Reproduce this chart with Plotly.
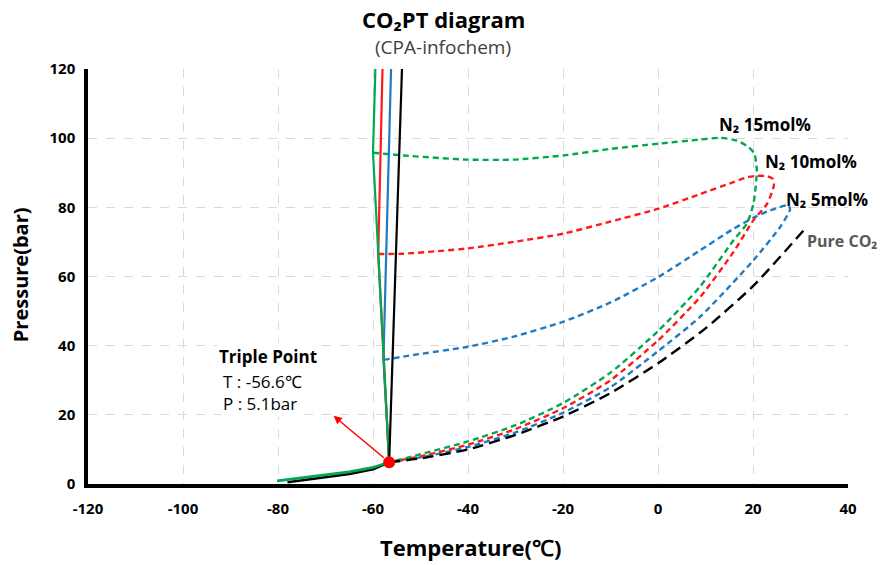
import plotly.graph_objects as go

# ---- data ----
triple_T, triple_P = -56.6, 6.3

# sublimation (solid) curves
sub_black_T = [-78.0, -74.0, -70.0, -65.0, -60.0, -56.6]
sub_black_P = [0.5, 1.2, 1.9, 2.9, 4.3, 6.3]
sub_green_T = [-80.2, -75.0, -70.0, -65.0, -60.0, -56.6]
sub_green_P = [0.9, 1.8, 2.6, 3.5, 4.8, 6.3]

# melting (solid) lines
melt_black_T = [-56.6, -53.9]
melt_black_P = [6.3, 120]
melt_blue_T = [-56.6, -57.8, -56.2]
melt_blue_P = [6.3, 36.0, 120]
melt_red_T = [-56.6, -58.9, -58.0]
melt_red_P = [6.3, 66.5, 120]
melt_green_T = [-56.6, -60.0, -59.5]
melt_green_P = [6.3, 95.8, 120]

# phase envelopes (dashed)
pure_T = [-56.6, -50, -40, -30, -20, -10, 0, 10, 20, 30.7]
pure_P = [6.3, 7.4, 10.0, 14.2, 19.5, 26.3, 34.9, 45.0, 57.2, 73.4]

n5_T = [-57.8, -51.5, -40, -30.4, -20, -10, 0, 8.8, 15.9, 20.1, 23.0, 25.5, 27.4,
        27.8, 25.7, 20.1, 8.9, 0, -10, -20, -30, -40, -50, -56.6]
n5_P = [35.9, 37.3, 39.7, 42.6, 46.9, 52.5, 59.8, 67.5, 73.8, 77.0, 78.8, 80.0, 80.6,
        79.4, 74.3, 64.7, 48.4, 38.4, 28.0, 20.6, 14.9, 10.7, 7.7, 6.3]

n10_T = [-58.9, -53.6, -40.2, -30.4, -19.9, -10, 0.1, 8.8, 15.9, 18.7, 21.0, 23.0, 24.2,
         24.4, 23.0, 20.1, 15.9, 8.9, 0, -10, -20, -30, -40, -50, -56.6]
n10_P = [66.5, 66.6, 68.1, 70.0, 72.4, 75.9, 79.6, 83.8, 87.3, 88.7, 89.1, 89.0, 88.2,
         86.4, 81.1, 76.3, 67.1, 54.1, 41.5, 30.0, 21.9, 15.9, 11.4, 8.0, 6.3]

n15_T = [-60.0, -53.6, -40.2, -30.4, -19.9, -10, 0.1, 8.8, 13.1, 16.6, 19.1, 20.3,
         20.8, 20.1, 18.7, 15.9, 8.8, 0, -10, -20, -30, -40, -50, -56.6]
n15_P = [95.8, 95.0, 93.8, 93.8, 95.0, 96.9, 98.4, 99.6, 100.1, 99.3, 97.4, 95.5,
         90.7, 81.1, 75.3, 70.5, 57.0, 44.2, 32.2, 23.4, 17.0, 12.3, 8.6, 6.3]

x_ticks = [-120, -100, -80, -60, -40, -20, 0, 20, 40]
y_ticks = [0, 20, 40, 60, 80, 100, 120]

GREEN = "#00A850"
RED = "#FF1A1A"
BLUE = "#1F7BC4"
BLACK = "#000000"
FONT = "Open Sans"

fig = go.Figure()

def dashed(T, P, color, dash="6px,4px", width=2.4):
    fig.add_trace(go.Scatter(x=T, y=P, mode="lines", line=dict(color=color, width=width, dash=dash),
                             line_shape="spline", line_smoothing=0.6,
                             hoverinfo="skip", showlegend=False))

def solid(T, P, color, width=2.2):
    fig.add_trace(go.Scatter(x=T, y=P, mode="lines", line=dict(color=color, width=width),
                             hoverinfo="skip", showlegend=False))

dashed(n5_T, n5_P, BLUE)
dashed(n10_T, n10_P, RED)
dashed(n15_T, n15_P, GREEN)
dashed(pure_T, pure_P, BLACK, dash="11px,6px", width=2.4)

solid(melt_blue_T, melt_blue_P, BLUE)
solid(melt_red_T, melt_red_P, RED)
solid(sub_black_T, sub_black_P, BLACK, width=2.6)
solid(sub_green_T, sub_green_P, GREEN, width=2.6)
solid(melt_green_T, melt_green_P, GREEN)
solid(melt_black_T, melt_black_P, BLACK)

fig.add_trace(go.Scatter(x=[triple_T], y=[triple_P], mode="markers",
                         marker=dict(color="#FF0000", size=12), hoverinfo="skip", showlegend=False))

annotations = [
    dict(text="<b>CO₂PT diagram</b>", x=0.4675, y=1.121, xref="paper", yref="paper",
         xanchor="center", yanchor="middle", showarrow=False,
         font=dict(size=22, color="#000000", family=FONT)),
    dict(text="(CPA-infochem)", x=0.4675, y=1.054, xref="paper", yref="paper",
         xanchor="center", yanchor="middle", showarrow=False,
         font=dict(size=19, color="#404040", family=FONT)),
    dict(text="<b>Temperature(℃)</b>", x=0.503, y=-0.153, xref="paper", yref="paper",
         xanchor="center", yanchor="middle", showarrow=False,
         font=dict(size=22, color="#000000", family=FONT)),
    dict(text="<b>Pressure(bar)</b>", x=-0.089, y=0.504, xref="paper", yref="paper",
         xanchor="center", yanchor="middle", showarrow=False, textangle=-90,
         font=dict(size=20, color="#000000", family=FONT)),
    dict(text="<b>N₂ 15mol%</b>", x=12.5, y=104.0, xanchor="left", yanchor="middle",
         showarrow=False, font=dict(size=17, color="#000000", family=FONT)),
    dict(text="<b>N₂ 10mol%</b>", x=22.0, y=93.3, xanchor="left", yanchor="middle",
         showarrow=False, font=dict(size=17, color="#000000", family=FONT)),
    dict(text="<b>N₂ 5mol%</b>", x=26.6, y=82.3, xanchor="left", yanchor="middle",
         showarrow=False, font=dict(size=17, color="#000000", family=FONT)),
    dict(text="<b>Pure CO₂</b>", x=31.0, y=70.2, xanchor="left", yanchor="middle",
         showarrow=False, font=dict(size=16, color="#595959", family=FONT)),
    dict(text="<b>Triple Point</b>", x=-92.8, y=36.8, xanchor="left", yanchor="middle",
         showarrow=False, bgcolor="#FFFFFF", font=dict(size=17, color="#000000", family=FONT)),
    dict(text="T : -56.6℃<br>P : 5.1bar", x=-92.0, y=26.5, xanchor="left", yanchor="middle",
         align="left", showarrow=False, bgcolor="#FFFFFF",
         font=dict(size=17, color="#000000", family=FONT)),
    dict(text="", x=-68.3, y=19.7, ax=triple_T, ay=triple_P, axref="x", ayref="y",
         showarrow=True, arrowhead=2, arrowsize=1.1, arrowwidth=1.5, arrowcolor="#FF0000",
         standoff=0, startstandoff=5),
]

fig.update_layout(
    width=885, height=565,
    margin=dict(l=87.7, r=37.3, t=68.5, b=80.7),
    plot_bgcolor="#FFFFFF", paper_bgcolor="#FFFFFF",
    font=dict(family=FONT),
    annotations=annotations,
    xaxis=dict(range=[-120, 40], tickvals=x_ticks, ticktext=[str(v) for v in x_ticks],
               showgrid=True, gridcolor="#D9D9D9", griddash="dash", gridwidth=1,
               showline=True, linecolor="#000000", linewidth=3.5, zeroline=False,
               ticklabelstandoff=8,
               tickfont=dict(size=15, color="#000000", family=FONT, weight="bold"), ticks=""),
    yaxis=dict(range=[0, 120], tickvals=y_ticks, ticktext=[str(v) for v in y_ticks],
               showgrid=True, gridcolor="#D9D9D9", griddash="dash", gridwidth=1,
               showline=True, linecolor="#000000", linewidth=3.5, zeroline=False,
               ticklabelstandoff=6,
               tickfont=dict(size=15, color="#000000", family=FONT, weight="bold"), ticks=""),
)

fig.write_html("out.html")
